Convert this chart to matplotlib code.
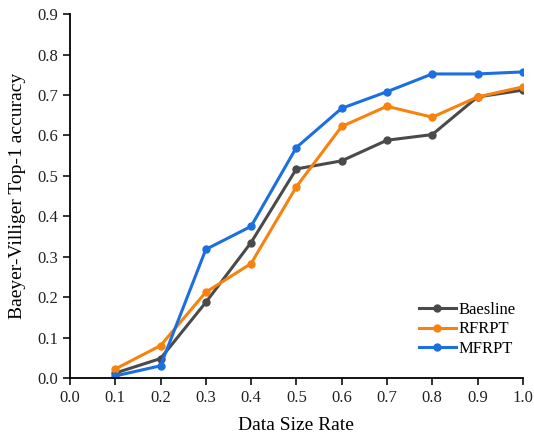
import numpy as np
import matplotlib
matplotlib.use('Agg')
import matplotlib.pyplot as plt

plt.rcParams['font.family'] = ['Liberation Serif', 'DejaVu Serif']

# data
rates = [0.1, 0.2, 0.3, 0.4, 0.5, 0.6, 0.7, 0.8, 0.9, 1.0]
baseline = [0.012, 0.048, 0.187, 0.335, 0.517, 0.537, 0.588, 0.602, 0.695, 0.712]
rfrpt = [0.022, 0.080, 0.212, 0.283, 0.473, 0.622, 0.672, 0.645, 0.695, 0.720]
mfrpt = [0.005, 0.030, 0.318, 0.375, 0.570, 0.667, 0.708, 0.752, 0.752, 0.757]
series_names = ['Baesline', 'RFRPT', 'MFRPT']
colors = ['#4a4a4a', '#f7820f', '#1b6fe0']

fig = plt.figure(figsize=(5.34, 4.41), dpi=100)
ax = fig.add_axes([0.131, 0.143, 0.848, 0.825])

for vals, name, c in zip([baseline, rfrpt, mfrpt], series_names, colors):
    ax.plot(rates, vals, '-o', color=c, lw=2.2, ms=5, label=name)

ax.set_xlim(0, 1.0)
ax.set_ylim(0, 0.9)
ax.set_xticks(np.arange(0, 1.01, 0.1))
ax.set_yticks(np.arange(0, 0.91, 0.1))
ax.xaxis.set_major_formatter(matplotlib.ticker.FormatStrFormatter('%.1f'))
ax.yaxis.set_major_formatter(matplotlib.ticker.FormatStrFormatter('%.1f'))
ax.spines['top'].set_visible(False)
ax.spines['right'].set_visible(False)
ax.spines['left'].set_linewidth(1.3)
ax.spines['bottom'].set_linewidth(1.3)
ax.tick_params(direction='out', length=5, width=1.3, labelsize=12, colors='#222222')
ax.set_xlabel('Data Size Rate', fontsize=14, labelpad=8)
ax.set_ylabel('Baeyer-Villiger Top-1 accuracy', fontsize=14, labelpad=8)

ax.legend(loc='lower right', bbox_to_anchor=(1.0, 0.04), frameon=False, fontsize=12,
          handlelength=2.2, handletextpad=0.2, labelspacing=0.2, borderaxespad=0.0)

fig.savefig('out.png', dpi=100)
